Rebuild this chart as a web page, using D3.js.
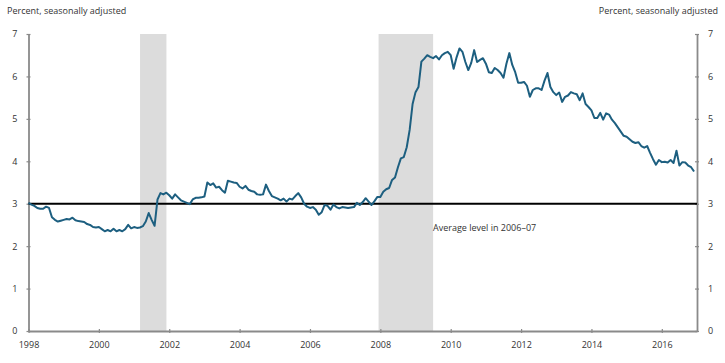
<!DOCTYPE html>
<html><head><meta charset="utf-8">
<script src="https://cdn.jsdelivr.net/npm/d3@7"></script>
<style>body{margin:0;background:#fff}svg{display:block}text{font-family:"Open Sans",sans-serif;fill:#333}</style>
</head><body><svg id="c" width="725" height="363"></svg>
<script>
const startYear = 1998;
const values = [
 // 1998
 3.02,2.98,2.95,2.90,2.88,2.88,2.93,2.90,2.68,2.62,2.58,2.60,
 // 1999
 2.62,2.64,2.63,2.67,2.61,2.59,2.58,2.57,2.52,2.50,2.45,2.44,
 // 2000
 2.45,2.40,2.35,2.38,2.35,2.41,2.35,2.38,2.35,2.40,2.50,2.42,
 // 2001
 2.45,2.43,2.44,2.47,2.58,2.78,2.62,2.48,3.10,3.25,3.22,3.26,
 // 2002
 3.20,3.12,3.22,3.15,3.08,3.05,3.02,2.99,3.10,3.14,3.14,3.15,
 // 2003
 3.17,3.50,3.44,3.48,3.38,3.40,3.32,3.26,3.54,3.52,3.50,3.49,
 // 2004
 3.40,3.36,3.42,3.33,3.30,3.28,3.22,3.21,3.22,3.45,3.30,3.18,
 // 2005
 3.15,3.12,3.08,3.12,3.05,3.12,3.10,3.18,3.25,3.15,3.00,2.93,
 // 2006
 2.90,2.92,2.86,2.74,2.80,2.97,2.95,2.86,2.98,2.92,2.89,2.92,
 // 2007
 2.91,2.90,2.91,2.92,3.02,2.97,3.04,3.13,3.05,2.97,3.06,3.16,
 // 2008
 3.16,3.28,3.34,3.37,3.56,3.62,3.86,4.07,4.10,4.33,4.74,5.35,
 // 2009
 5.63,5.75,6.35,6.42,6.50,6.46,6.43,6.48,6.40,6.50,6.55,6.58,
 // 2010
 6.50,6.18,6.45,6.66,6.58,6.34,6.15,6.32,6.62,6.34,6.39,6.43,
 // 2011
 6.30,6.10,6.08,6.20,6.15,6.08,5.97,6.30,6.55,6.27,6.10,5.85,
 // 2012
 5.85,5.87,5.78,5.52,5.68,5.72,5.72,5.68,5.90,6.08,5.75,5.63,
 // 2013
 5.56,5.62,5.40,5.52,5.55,5.63,5.60,5.58,5.44,5.60,5.35,5.28,
 // 2014
 5.20,5.02,5.02,5.14,4.98,5.13,5.10,4.98,4.90,4.80,4.70,4.60,
 // 2015
 4.58,4.52,4.46,4.43,4.45,4.36,4.32,4.36,4.20,4.05,3.92,4.03,
 // 2016
 3.98,3.99,3.97,4.03,3.96,4.25,3.90,3.98,3.97,3.90,3.86,3.76
];
const recessions = [[2001.17, 2001.92], [2007.95, 2009.5]];
const averageLevel = 3.0;
const averageLabel = "Average level in 2006–07";
const xTicks = [1998, 2000, 2002, 2004, 2006, 2008, 2010, 2012, 2014, 2016];
const yTicks = [0, 1, 2, 3, 4, 5, 6, 7];
const axisTitle = "Percent, seasonally adjusted";

const svg = d3.select("#c");
const L = 28.5, R = 697, T = 34, B = 331;
const x = d3.scaleLinear().domain([1998, 2017]).range([L, R]);
const y = d3.scaleLinear().domain([0, 7]).range([B, T]);

// recession shading
svg.append("g").selectAll("rect").data(recessions).join("rect")
  .attr("x", d => x(d[0])).attr("width", d => x(d[1]) - x(d[0]))
  .attr("y", T).attr("height", B - T).attr("fill", "#dcdcdc");

// axes
const axisColor = "#8a8a8a";
const gx = svg.append("g").attr("transform", `translate(0,${B})`)
  .call(d3.axisBottom(x).tickValues(xTicks).tickFormat(d3.format("d")).tickSizeInner(3).tickSizeOuter(0).tickPadding(6));
const gl = svg.append("g").attr("transform", `translate(${L},0)`)
  .call(d3.axisLeft(y).tickValues(yTicks).tickFormat(d3.format("d")).tickSizeInner(3).tickSizeOuter(0).tickPadding(8));
const gr = svg.append("g").attr("transform", `translate(${R},0)`)
  .call(d3.axisRight(y).tickValues(yTicks).tickFormat(d3.format("d")).tickSizeInner(3).tickSizeOuter(0).tickPadding(8));
[gx, gl, gr].forEach(g => {
  g.select(".domain").attr("stroke", axisColor).attr("stroke-width", 1.8);
  g.selectAll(".tick line").attr("stroke", axisColor).attr("stroke-width", 1.2);
  g.selectAll(".tick text").attr("fill", "#333").style("font-size", "9px").style("font-family", "'Open Sans',sans-serif");
});
gx.selectAll(".tick line").attr("y1", -2).attr("y2", 2);
gl.selectAll(".tick line").attr("x1", -2).attr("x2", 2);
gr.selectAll(".tick line").attr("x1", -2).attr("x2", 2);
gx.selectAll(".tick text").attr("dy", "0.9em");

// average line
svg.append("line").attr("x1", L).attr("x2", R)
  .attr("y1", y(averageLevel)).attr("y2", y(averageLevel))
  .attr("stroke", "#000").attr("stroke-width", 2);
svg.append("text").attr("x", 433).attr("y", y(averageLevel) + 27)
  .style("font-size", "9px").text(averageLabel);

// series line
const line = d3.line().x((d, i) => x(startYear + i / 12)).y(d => y(d));
svg.append("path").datum(values).attr("d", line)
  .attr("fill", "none").attr("stroke", "#1d5f80").attr("stroke-width", 2)
  .attr("stroke-linejoin", "round");

// axis titles
svg.append("text").attr("x", 7).attr("y", 14).style("font-size", "9px").text(axisTitle);
svg.append("text").attr("x", 718).attr("y", 14).attr("text-anchor", "end").style("font-size", "9px").text(axisTitle);
</script></body></html>
